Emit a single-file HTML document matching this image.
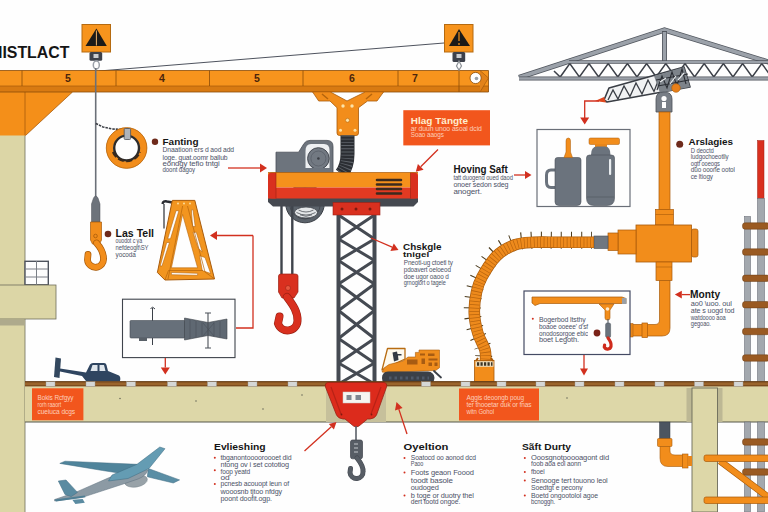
<!DOCTYPE html>
<html><head><meta charset="utf-8"><title>Crane diagram</title>
<style>
html,body{margin:0;padding:0;background:#fefefe;}
body{width:768px;height:512px;overflow:hidden;font-family:"Liberation Sans",sans-serif;}
svg{display:block}
text{font-family:"Liberation Sans",sans-serif;}
.h{font-weight:bold;fill:#151515;}
.s{font-size:6.3px;fill:#363d55;letter-spacing:-0.1px;opacity:0.9}
.w{fill:#ffdcc8;}
</style></head><body>
<svg width="768" height="512" viewBox="0 0 768 512">
<rect width="768" height="512" fill="#fefefe"/>
<!--BG-->
<g id="bg">
<rect x="0" y="135" width="25" height="377" fill="#dcd6a6"/>
<line x1="25" y1="134" x2="25" y2="512" stroke="#6f6e5c" stroke-width="0.8"/>
<rect x="25" y="261.300" width="23.300" height="23.500" fill="#fdfdfd" stroke="#4e535d" stroke-width="1.400"/>
<path d="M36.5 261V285M25 269H48M25 277H48" stroke="#7a7f86" stroke-width="1" fill="none"/>
<rect x="-1" y="285" width="57" height="34" fill="#dcd6a6" stroke="#6f6e5c" stroke-width="0.8"/>
<rect x="0" y="319.5" width="25" height="6" fill="#aeaa8c"/>
</g>
<!--BEAM-->
<g id="beam">
<line x1="99" y1="71" x2="444" y2="43" stroke="#3a3f4c" stroke-width="0.9"/>
<!-- left bracket -->
<path d="M0 92H72.500L25.500 135.500H0Z" fill="#f48f19"/>
<path d="M25 92V135" stroke="#a85a0a" stroke-width="0.8"/>
<path d="M72.500 92L25.500 135.500" stroke="#a85a0a" stroke-width="0.8" fill="none"/>
<!-- beam -->
<rect x="0" y="70.5" width="488.5" height="15.5" fill="#f7941d"/>
<rect x="0" y="86" width="488.5" height="6" fill="#d87a12"/>
<path d="M0 70.5H488.5V92H0" fill="none" stroke="#8a4b08" stroke-width="0.8"/>
<path d="M0 86H488.5" stroke="#a85a0a" stroke-width="0.7"/>
<path d="M22 70.5V86M116 70.5V86M209.5 70.5V86M303 70.5V86M398 70.5V86M459 70.5V92" stroke="#8a4b08" stroke-width="0.8"/>
<path d="M480 70.5L488.5 78L480 92" fill="#e2821a" stroke="#8a4b08" stroke-width="0.5"/>
<circle cx="475.600" cy="78" r="5.600" fill="#fff" stroke="#8a4b08" stroke-width="0.8"/>
<circle cx="476.5" cy="78.5" r="1.8" fill="#9aa0a6"/>
<g font-size="10.500" font-weight="bold" fill="#4a250c" text-anchor="middle">
<text x="68" y="81.800">5</text><text x="162" y="81.800">4</text><text x="257" y="81.800">5</text><text x="352" y="81.800">6</text><text x="415" y="81.800">7</text></g>
<!-- sign 1 -->
<rect x="82" y="24.5" width="28.5" height="27.5" fill="#f7941d" stroke="#b56a10" stroke-width="1"/>
<path d="M96.400 28.500L85.500 46H106.800Z" fill="#1c1a18"/>
<path d="M96.400 30.500V45.500" stroke="#f3b46a" stroke-width="1"/>
<rect x="89.500" y="52" width="12.700" height="8.700" rx="1.5" fill="#3d414b"/>
<rect x="93.5" y="54" width="5" height="4" fill="#c9ccd0"/>
<ellipse cx="96.300" cy="65" rx="3" ry="4" fill="none" stroke="#9ba0a8" stroke-width="1.500"/>
<line x1="95.7" y1="68" x2="95.7" y2="200" stroke="#6b7078" stroke-width="1.6"/>
<!-- sign 2 -->
<rect x="444.5" y="24.5" width="28.5" height="27.5" fill="#f7941d" stroke="#b56a10" stroke-width="1"/>
<path d="M459 29L449 46H470Z" fill="#1c1a18"/>
<path d="M459 32V41M459 43V45" stroke="#f7941d" stroke-width="1.2"/>
<rect x="452.500" y="52" width="12.700" height="10" rx="1.5" fill="#3d414b"/>
<rect x="456.5" y="54" width="5" height="4" fill="#c9ccd0"/>
<path d="M459 61L456.5 66L459 70L461.5 66Z" fill="none" stroke="#8d9298" stroke-width="1.2"/>
<!-- Y bracket -->
<path d="M312.500 91.800H330L347 101L365.600 91.800H383.700L377 101H367.500L358.500 107.700V133Q358.500 135.500 356 135.500H339.500Q337 135.500 337 133V107.700L330 101H318.700Z" fill="#f28d1b" stroke="#a85a0a" stroke-width="0.8" stroke-linejoin="round"/>
<path d="M322 94L328 99M372 94L366 99" stroke="#b5640c" stroke-width="1.500"/>
<circle cx="343" cy="106" r="1.700" fill="#fde3a8"/><circle cx="352" cy="106" r="1.700" fill="#fde3a8"/><circle cx="347.500" cy="120.300" r="2" fill="#fde3a8" stroke="#b5640c" stroke-width="0.6"/>
<circle cx="340.500" cy="130.300" r="1.500" fill="#fde3a8"/><circle cx="355" cy="130.300" r="1.500" fill="#fde3a8"/>
</g>
<!--LEFT-->
<g id="left">
<!-- chain to ring -->
<path d="M95.800 123.500L103 127L112 129L124 129.500" stroke="#3c3f46" stroke-width="1.6" fill="none" stroke-dasharray="2.500 1"/>
<!-- ring -->
<circle cx="126.600" cy="148" r="16.800" fill="none" stroke="#f28d1b" stroke-width="7.200"/>
<circle cx="126.600" cy="148" r="20.300" fill="none" stroke="#b5640c" stroke-width="0.8"/>
<circle cx="126.600" cy="148" r="12.400" fill="none" stroke="#2d2b2a" stroke-width="2.400"/>
<path d="M113 152A14.500 14.500 0 0 0 140 152" stroke="#3a2a1c" stroke-width="2.200" fill="none" stroke-dasharray="6 2.500"/>
<rect x="124.200" y="128.500" width="6.400" height="11" rx="1" fill="#aeb4bc" stroke="#4c5058" stroke-width="0.8"/>
<!-- sleeve + orange hook -->
<path d="M93.500 198Q95.700 194 98 198L100 204V222H91.500V204Z" fill="#6d737b" stroke="#4c5058" stroke-width="0.5"/>
<path d="M90.500 222H101.500V240L99.500 244H92.500L90.500 240Z" fill="#f28d1b" stroke="#a85a0a" stroke-width="0.7"/>
<circle cx="95.500" cy="236" r="1.800" fill="none" stroke="#a85a0a" stroke-width="0.8"/>
<path d="M96.500 243C100.500 247.500 103.500 253 103.500 258.500A8 8 0 0 1 87.500 260L88 254.500" fill="none" stroke="#a85a0a" stroke-width="6.800" stroke-linecap="round"/>
<path d="M96.500 243C100.500 247.500 103.500 253 103.500 258.500A8 8 0 0 1 87.500 260L88 254.500" fill="none" stroke="#f28d1b" stroke-width="5.400" stroke-linecap="round"/>
<!-- A-frame trestle -->
<path d="M164 204V228.500" stroke="#2b2d33" stroke-width="1.200"/>
<path d="M162.500 204Q163 200.500 167 201.500L172.500 202.500" stroke="#2b2d33" stroke-width="2.400" fill="none"/>
<path d="M172.300 200.400H194.800L214.500 279L164.900 280L157.400 272.500Z" fill="#f2951f" stroke="#a85a0a" stroke-width="1" stroke-linejoin="round"/>
<g fill="#fefefe" stroke="#b5640c" stroke-width="0.6" stroke-linejoin="round">
<path d="M182.600 214.500L197.600 267.800H171.400Z"/>
<path d="M176 210.700H178.900L170.500 238.800H167.700Z"/>
<path d="M166.700 242.500H169.500L162 266H160.200Z"/>
<path d="M171.400 272.500L197.600 273.300V275.300L171.400 274.700Z"/>
<path d="M191.400 209.800H193L195.200 226.600H192.600Z"/>
<path d="M193 232.300H196.300L202.300 252L198.200 248.200Z"/>
<path d="M199.500 255.700L205 257.500L210.700 273.500L202.300 270.600Z"/>
</g>
<path d="M182.600 206L168 279M187.500 206L205 272L214 278.500M164.900 280L168.500 270.500H203" stroke="#b5640c" stroke-width="0.7" fill="none"/>
<circle cx="178" cy="203.500" r="0.900" fill="#fde3a8"/><circle cx="184" cy="203.500" r="0.900" fill="#fde3a8"/><circle cx="190" cy="203.500" r="0.900" fill="#fde3a8"/>
<!-- boxed cylinder -->
<rect x="122.500" y="299.200" width="112.500" height="58.400" fill="#fefefe" stroke="#3f444c" stroke-width="1.100"/>
<path d="M152.500 308V345M150.500 309L152.500 307L155 309" stroke="#3b4048" stroke-width="1" fill="none"/>
<rect x="130" y="320.500" width="55" height="17.500" rx="1" fill="#67707a" stroke="#454b54" stroke-width="0.6"/>
<rect x="139" y="338" width="8" height="3" fill="#596068"/>
<path d="M184.500 318L208 322.500L227 319V339L208 335.500L184.500 340Z" fill="#5f6872" stroke="#3f444c" stroke-width="0.6"/>
<path d="M190 320V339M196 321V338M202 322V337M214 322V337M220 321V338M203 323L214 336M214 323L203 336" stroke="#454b54" stroke-width="0.5"/>
<path d="M208 313V348M205 313H211M205 348H211" stroke="#4b5058" stroke-width="1.100"/>
<!-- helicopter-ish vehicle -->
<path d="M55.500 357.500L61 358.500L59.500 378L54 377Z" fill="#33485f"/>
<path d="M60 368.500L86 372.500L90 364.500Q91 363 93 363H104Q106 363 106.500 365L108 371L119 375.500Q121 377 120 381H86L82 376L60 371.500Z" fill="#2f4560"/>
<path d="M92.500 365H97.500V371H90.500ZM99.500 365H104L105.500 371H99.500Z" fill="#dfe6ec"/>
</g>
<!--HOIST-->
<g id="hoist">
<!-- tower -->
<path d="M338.5 215L374.5 239M374.5 215L338.5 239M338.5 239L374.5 260.5M374.5 239L338.5 260.5M338.5 260.5L374.5 284M374.5 260.5L338.5 284M338.5 284L374.5 310.5M374.5 284L338.5 310.5M338.5 310.5L374.5 338.5M374.5 310.5L338.5 338.5M338.5 338.5L374.5 363M374.5 338.5L338.5 363M338.5 363L374.5 384M374.5 363L338.5 384" stroke="#454a52" stroke-width="3" fill="none"/>
<path d="M338.500 215V384M374.500 215V384" stroke="#454a52" stroke-width="4" fill="none"/>
<!-- wheel below hoist -->
<circle cx="305" cy="203.500" r="19.300" fill="#5b626a" stroke="#3a3e45" stroke-width="1"/>
<circle cx="305" cy="203.500" r="15.500" fill="none" stroke="#444950" stroke-width="1"/>
<ellipse cx="306" cy="212.500" rx="11.500" ry="5.500" fill="#e3e6e8" stroke="#3a3e45" stroke-width="0.8"/>
<path d="M296.500 212.500Q306 217.500 315.500 212.500M298.500 210Q306 214 313.500 210M300 214.800Q306 217.800 312 214.800" stroke="#3a3e45" stroke-width="0.7" fill="none"/>
<!-- cables -->
<path d="M281.500 204V276M292.300 204V276" stroke="#3f444c" stroke-width="2.400"/>
<!-- black hose -->
<path d="M347.500 135.500V154C347.500 163 346 168 341.500 174" stroke="#2b2e33" stroke-width="14" fill="none"/>
<path d="M347.500 135.500V154C347.500 163 346 168 341.500 174" stroke="#5d6269" stroke-width="12.500" fill="none" stroke-dasharray="0.900 2.300"/>

<!-- motor -->
<path d="M276 152.200H298.600L304 143.500Q306 140.400 310 140.400H327Q333 140.400 333 146.500V173.500H276Z" fill="#6d747d" stroke="#4a4f58" stroke-width="0.8"/>
<path d="M305.500 173V151Q305.500 144 311 144H324Q329.500 144 329.500 150V173Z" fill="#eef0f2"/>
<circle cx="318.400" cy="158.500" r="10.800" fill="#727982" stroke="#454a52" stroke-width="1"/>
<circle cx="318.400" cy="158.500" r="7.500" fill="none" stroke="#565c65" stroke-width="0.7"/>
<circle cx="318.400" cy="158.500" r="1.300" fill="#3a3e45"/>
<rect x="305" y="168" width="25" height="5.500" fill="#6d747d"/>
<!-- body -->
<path d="M268 196H418V202L413.500 206.500H273L268 202Z" fill="#454950"/>
<rect x="268" y="172.500" width="150" height="15" fill="#f5911c"/>
<rect x="268" y="187.500" width="150" height="11" fill="#e23a22"/>
<path d="M268 176Q268 172.500 272 172.500H276V198.500H272Q268 198.500 268 195Z" fill="#d9301f"/>
<path d="M276 172.500V198.500" stroke="#9b2114" stroke-width="0.6"/>
<path d="M410.500 172.500H414Q418 172.500 418 176V195Q418 198.500 414 198.500H410.500Z" fill="#d9301f"/>
<path d="M410.500 172.500V198.500" stroke="#9b2114" stroke-width="0.6"/>
<path d="M268 172.500H418" stroke="#a85a0a" stroke-width="0.7"/>
<path d="M377 180H401M377 184.500H401M377 189H401M377 193.500H401" stroke="#3b2a1e" stroke-width="2.600" stroke-linecap="round"/>
<!-- red plate -->
<rect x="333" y="202.500" width="47" height="12.500" fill="#d9301f" stroke="#9b2114" stroke-width="0.6"/>
<circle cx="342" cy="209" r="1.500" fill="#7d1a10"/><circle cx="356" cy="209" r="1.500" fill="#7d1a10"/><circle cx="370" cy="209" r="1.500" fill="#7d1a10"/>
<!-- red hook -->
<path d="M278.500 276Q278.500 274 281 274H295Q298 274 298 276V292L294 298H282L278.500 292Z" fill="#d9301f" stroke="#9b2114" stroke-width="0.7"/>
<circle cx="288" cy="288" r="2.500" fill="#e8573f" stroke="#9b2114" stroke-width="0.6"/>
<path d="M287 297C293 305 298 312 297.500 321A10 10 0 0 1 278 323.500L279.500 316.500" fill="none" stroke="#9b2114" stroke-width="8" stroke-linecap="round"/>
<path d="M287 297C293 305 298 312 297.500 321A10 10 0 0 1 278 323.500L279.500 316.500" fill="none" stroke="#d9301f" stroke-width="6.800" stroke-linecap="round"/>
</g>
<!--RIGHT-->
<g id="right">
<!-- truss -->
<path d="M554 71L560.2 77L569.8 63.5L579.4 77L589.0 63.5L598.6 77L608.2 63.5L617.8 77L627.4 63.5L637.0 77L646.6 63.5L656.2 77L665.8 63.5L675.4 77L685.0 63.5L694.6 77L704.2 63.5L713.8 77L723.4 63.5L733.0 77L742.6 63.5L752.2 77L761.8 63.5L771.4 77L781.0 63.5" stroke="#3c4048" stroke-width="1.500" fill="none"/>
<path d="M519 77.500L664.500 30L775 64" stroke="#50555d" stroke-width="5.200" fill="none" stroke-linejoin="miter"/>
<path d="M519 77.500L664.500 30L775 64" stroke="#9ba1a9" stroke-width="3.600" fill="none"/>
<path d="M664.500 31V62" stroke="#50555d" stroke-width="5"/><path d="M664.500 32V62" stroke="#9ba1a9" stroke-width="3.400"/>
<path d="M569 62H775" stroke="#50555d" stroke-width="3.400"/><path d="M569 62H775" stroke="#9ba1a9" stroke-width="2"/>
<path d="M519 78.500H775" stroke="#50555d" stroke-width="4.200"/><path d="M519 78.500H775" stroke="#9ba1a9" stroke-width="2.600"/>
<!-- small jib -->
<path d="M604 100L609 88L684 67L690 87L607 102Z" fill="#f1f2f3" stroke="#3a3e45" stroke-width="1.600" stroke-linejoin="round"/>
<path d="M608 100L613 90L618 99L624 86L630 96.500L636 83L642 94L648 80L654 91.500L660 76" stroke="#3a3e45" stroke-width="1.300" fill="none"/>
<path d="M654 76L684 67L690 87L660 93Z" fill="#7d838a"/>
<path d="M657 90L662 76L667 88L672 72L677 86L682 69L686 84M656 80L688 74M658 86L689 80" stroke="#2b2e34" stroke-width="1.100" fill="none"/>
<path d="M660 82L666 78M670 84L676 76M678 80L684 73" stroke="#e9ecee" stroke-width="1.200" fill="none"/>
<circle cx="676" cy="88" r="4.300" fill="#e8801a" stroke="#a85a0a" stroke-width="0.6"/>
<path d="M595 101L604 97L606 102.500Z" fill="#e0481f"/>
<path d="M599 101H584.700V119" stroke="#d2301f" stroke-width="1.300" fill="none"/>
<path d="M580.200 117.500H589.200L584.700 124.500Z" fill="#d2301f"/>
<!-- clevis + pole -->
<path d="M656 112V99Q656 92 664 92Q672 92 672 99V112Z" fill="#787e86" stroke="#4b5058" stroke-width="0.8"/>
<circle cx="664" cy="98.500" r="2.600" fill="#fefefe"/><path d="M662 102H666V108H662Z" fill="#fefefe"/>
<rect x="659" y="112" width="11" height="98" fill="#f28d1b" stroke="#a85a0a" stroke-width="0.7"/>
<rect x="655.500" y="209.500" width="18" height="15.500" fill="#f28d1b" stroke="#a85a0a" stroke-width="0.7"/>
<path d="M655.500 214.500H673.500" stroke="#a85a0a" stroke-width="0.6"/>
<!-- main body -->
<rect x="691.500" y="229" width="6.500" height="28" rx="2" fill="#e8861a" stroke="#a85a0a" stroke-width="0.7"/>
<rect x="636" y="225" width="55.500" height="37" fill="#f28d1b" stroke="#a85a0a" stroke-width="0.8"/>
<rect x="618" y="230" width="18" height="24" fill="#f28d1b" stroke="#a85a0a" stroke-width="0.7"/>
<rect x="608" y="233" width="10" height="17.500" fill="#ef8719" stroke="#a85a0a" stroke-width="0.7"/>
<rect x="594" y="236" width="14" height="12.500" fill="#707780" stroke="#4b5058" stroke-width="0.6"/>
<rect x="656" y="262" width="16" height="18.500" fill="#f28d1b" stroke="#a85a0a" stroke-width="0.7"/>
<path d="M656 267H672" stroke="#a85a0a" stroke-width="0.6"/>
<!-- elbow pipe -->
<path d="M659.500 280.500H670V328Q670 336 662 336H631V324.500H655Q659.500 324.500 659.500 320Z" fill="#f28d1b" stroke="#a85a0a" stroke-width="0.7"/>
<rect x="642" y="323" width="5.500" height="14.500" fill="#f28d1b" stroke="#a85a0a" stroke-width="0.7"/>
<rect x="630" y="323.500" width="3" height="13.500" fill="#e8861a" stroke="#a85a0a" stroke-width="0.5"/>
<!-- curved hose -->
<g fill="none">
<path id="hosep" d="M594 242.3C588.3 242.3 570.0 242.3 560 242.3C550.0 242.3 541.5 241.9 534 242.3C526.5 242.7 521.2 242.5 515 244.8C508.8 247.1 502.0 250.6 496.5 256C491.0 261.4 485.3 271.0 482 277C478.7 283.0 477.8 286.0 476.5 292C475.2 298.0 474.1 306.2 474.3 313C474.5 319.8 476.0 326.8 477.8 333C479.6 339.2 483.7 345.2 485 350C486.3 354.8 485.4 360.0 485.5 362" stroke="#4a3a1c" stroke-width="17" stroke-dasharray="1 9" transform="translate(-2,-2)"/>
<path d="M594 242.3C588.3 242.3 570.0 242.3 560 242.3C550.0 242.3 541.5 241.9 534 242.3C526.5 242.7 521.2 242.5 515 244.8C508.8 247.1 502.0 250.6 496.5 256C491.0 261.4 485.3 271.0 482 277C478.7 283.0 477.8 286.0 476.5 292C475.2 298.0 474.1 306.2 474.3 313C474.5 319.8 476.0 326.8 477.8 333C479.6 339.2 483.7 345.2 485 350C486.3 354.8 485.4 360.0 485.5 362" stroke="#a85a0a" stroke-width="11.600"/>
<path d="M594 242.3C588.3 242.3 570.0 242.3 560 242.3C550.0 242.3 541.5 241.9 534 242.3C526.5 242.7 521.2 242.5 515 244.8C508.8 247.1 502.0 250.6 496.5 256C491.0 261.4 485.3 271.0 482 277C478.7 283.0 477.8 286.0 476.5 292C475.2 298.0 474.1 306.2 474.3 313C474.5 319.8 476.0 326.8 477.8 333C479.6 339.2 483.7 345.2 485 350C486.3 354.8 485.4 360.0 485.5 362" stroke="#ee8a1c" stroke-width="10.200"/>
<path d="M594 242.3C588.3 242.3 570.0 242.3 560 242.3C550.0 242.3 541.5 241.9 534 242.3C526.5 242.7 521.2 242.5 515 244.8C508.8 247.1 502.0 250.6 496.5 256C491.0 261.4 485.3 271.0 482 277C478.7 283.0 477.8 286.0 476.5 292C475.2 298.0 474.1 306.2 474.3 313C474.5 319.8 476.0 326.8 477.8 333C479.6 339.2 483.7 345.2 485 350C486.3 354.8 485.4 360.0 485.5 362" stroke="#b9650e" stroke-width="10.200" stroke-dasharray="0.700 2.600"/>
</g>
<rect x="474.500" y="360.500" width="19.500" height="21" fill="#f28d1b" stroke="#a85a0a" stroke-width="0.8"/>
<rect x="475.500" y="361.200" width="18" height="5.600" fill="#e9dcc0"/><path d="M477 364H492.500" stroke="#3d3424" stroke-width="3.600" stroke-dasharray="2.200 1.300"/><path d="M478 358L476 361M491 358L493 361" stroke="#a85a0a" stroke-width="2"/>
<!-- box with mug -->
<rect x="537" y="129.500" width="93" height="77" fill="#fefefe" stroke="#6a6f78" stroke-width="1.200"/>
<path d="M556 170H551Q546.500 170 546.500 175V182Q546.500 187.500 551 187.500H556" fill="none" stroke="#6b737d" stroke-width="3"/>
<path d="M555 160Q555 157.500 557.500 157.500H578.500Q581 157.500 581 160V202Q581 205.500 577 205.500H559Q555 205.500 555 202Z" fill="#6b737d" stroke="#4b525b" stroke-width="0.6"/>
<path d="M566 152V141Q566 138 568.300 138Q570.500 138 570.500 141V152L572.500 157.500H564Z" fill="#f28d1b" stroke="#a85a0a" stroke-width="0.5"/>
<rect x="589" y="138" width="30.500" height="6.500" rx="1.500" fill="#f28d1b" stroke="#a85a0a" stroke-width="0.5"/>
<rect x="595" y="144" width="12" height="3.500" fill="#e8861a"/>
<path d="M591 155Q591 146.500 597 146.500H605Q610.500 146.500 610.500 155Z" fill="#6b737d"/>
<path d="M586.500 158Q586.500 155 589.500 155H611.500Q614.500 155 614.500 158V198Q614.500 205.500 607 205.500H594Q586.500 205.500 586.500 198Z" fill="#6b737d" stroke="#4b525b" stroke-width="0.6"/>
<path d="M587 197H614" stroke="#565d66" stroke-width="0.8"/>
<rect x="609" y="159" width="2.200" height="16" rx="1" fill="#e9edf0"/>
<!-- box with jib crane -->
<rect x="524" y="291" width="106" height="63.500" fill="#fefefe" stroke="#444a63" stroke-width="1.200"/>
<path d="M532 297H622L626 298.500V303.500H540L535 305.500L532 303Z" fill="#f28d1b" stroke="#a85a0a" stroke-width="0.7"/>
<rect x="622" y="298" width="4.500" height="6" fill="#9a9fa5"/>
<path d="M599 304H614L610 310V318Q610 320 607.500 320Q605 320 605 318V310Z" fill="#f28d1b" stroke="#a85a0a" stroke-width="0.6"/>
<circle cx="607.500" cy="309" r="1.800" fill="#fde9c8"/>
<path d="M608 319V323" stroke="#4b525b" stroke-width="1"/><rect x="605.600" y="323" width="5" height="14.500" rx="1.500" fill="#6b737d" stroke="#4b525b" stroke-width="0.5"/>
<path d="M608 338C610.500 341 611.500 343.500 611 346.500A3.600 3.600 0 0 1 604.300 347L604.600 345" fill="none" stroke="#cf2b1c" stroke-width="3.200" stroke-linecap="round"/>
<circle cx="597" cy="333" r="3.400" fill="#7a2318"/>
<path d="M584 355V370" stroke="#d2301f" stroke-width="1.300"/><path d="M580 368.500H588L584 375.500Z" fill="#d2301f"/>
<!-- ladder right -->
<rect x="757.500" y="140.500" width="6.500" height="58" fill="#d9301f" stroke="#9b2114" stroke-width="0.5"/>
<rect x="757.500" y="198.500" width="7" height="184" fill="#a3a8ae" stroke="#6d727a" stroke-width="0.6"/>
<rect x="744.500" y="216.500" width="6" height="166" fill="#a3a8ae" stroke="#6d727a" stroke-width="0.6"/>

<rect x="742.500" y="222.8" width="27" height="6.400" rx="2.500" fill="#9a5a22" stroke="#6b3d14" stroke-width="0.5"/><rect x="742.500" y="248.8" width="27" height="6.400" rx="2.500" fill="#9a5a22" stroke="#6b3d14" stroke-width="0.5"/><rect x="742.500" y="275.1" width="27" height="6.400" rx="2.500" fill="#9a5a22" stroke="#6b3d14" stroke-width="0.5"/><rect x="742.500" y="301.5" width="27" height="6.400" rx="2.500" fill="#9a5a22" stroke="#6b3d14" stroke-width="0.5"/><rect x="742.500" y="328.3" width="27" height="6.400" rx="2.500" fill="#9a5a22" stroke="#6b3d14" stroke-width="0.5"/><rect x="742.500" y="354.8" width="27" height="6.400" rx="2.500" fill="#9a5a22" stroke="#6b3d14" stroke-width="0.5"/>
<!-- bulldozer -->
<path d="M387.500 348.500H405V359L390 366L382 370Z" fill="#fdf9ee" stroke="#b86c12" stroke-width="1.300" stroke-linejoin="round"/>
<path d="M392.500 352.500L397 351.500L397.500 354H401.500V355.500H398L398.500 360L394 361.500Z" fill="#333a44"/>
<path d="M382 372L384 368L389 364.500L403 361L408 357H415.400V352.400H419V350H439.500V367.700L435.600 370.500L386 372.500Z" fill="#ef8d1d" stroke="#a85a0a" stroke-width="0.6" stroke-linejoin="round"/>
<path d="M407 359.500H417.500V364.500H407ZM421.500 358.500H425V364H421.500ZM428 353.500H434.500V356H428ZM428.500 358.500H437.500V360.500H428.500ZM428.500 362.500H432V366H428.500ZM434.500 362.500H437.500V366H434.500ZM420 353.500H425V355.500H420Z" fill="#9a5410" opacity="0.850"/>
<path d="M388 371.500H428Q434 372 434.500 378Q434 384 428 384H388Q382 384 382 378Q382 372 388 371.500Z" fill="#3b4048"/>
<path d="M389 378H429" stroke="#4f5968" stroke-width="3" stroke-dasharray="2.500 3"/>
<path d="M434 371L441 377.500" stroke="#3b4048" stroke-width="1.800" fill="none" stroke-linecap="round"/>
</g>
<!--FLOOR-->
<g id="floor">
<rect x="25" y="386" width="743" height="36" fill="#ddd7a8"/>
<path d="M25 422H768" stroke="#55564b" stroke-width="1"/>
<rect x="25" y="381.200" width="743" height="5.200" fill="#7d4c1e"/><rect x="25" y="382.600" width="743" height="2.400" fill="#9a642c"/>
<path d="M25 381.500H768" stroke="#5c3813" stroke-width="0.6"/>
<rect x="46" y="381.800" width="9" height="4.500" fill="#d5d7d6" stroke="#9a9c98" stroke-width="0.4"/><rect x="86" y="381.800" width="9" height="4.500" fill="#d5d7d6" stroke="#9a9c98" stroke-width="0.4"/><rect x="126.5" y="381.800" width="9" height="4.500" fill="#d5d7d6" stroke="#9a9c98" stroke-width="0.4"/><rect x="167.5" y="381.800" width="9" height="4.500" fill="#d5d7d6" stroke="#9a9c98" stroke-width="0.4"/><rect x="207.5" y="381.800" width="9" height="4.500" fill="#d5d7d6" stroke="#9a9c98" stroke-width="0.4"/><rect x="248" y="381.800" width="9" height="4.500" fill="#d5d7d6" stroke="#9a9c98" stroke-width="0.4"/><rect x="288" y="381.800" width="9" height="4.500" fill="#d5d7d6" stroke="#9a9c98" stroke-width="0.4"/><rect x="421.5" y="381.800" width="9" height="4.500" fill="#d5d7d6" stroke="#9a9c98" stroke-width="0.4"/><rect x="461" y="381.800" width="9" height="4.500" fill="#d5d7d6" stroke="#9a9c98" stroke-width="0.4"/><rect x="497" y="381.800" width="9" height="4.500" fill="#d5d7d6" stroke="#9a9c98" stroke-width="0.4"/><rect x="536" y="381.800" width="9" height="4.500" fill="#d5d7d6" stroke="#9a9c98" stroke-width="0.4"/><rect x="575" y="381.800" width="9" height="4.500" fill="#d5d7d6" stroke="#9a9c98" stroke-width="0.4"/><rect x="615" y="381.800" width="9" height="4.500" fill="#d5d7d6" stroke="#9a9c98" stroke-width="0.4"/><rect x="655" y="381.800" width="9" height="4.500" fill="#d5d7d6" stroke="#9a9c98" stroke-width="0.4"/><rect x="694.5" y="381.800" width="9" height="4.500" fill="#d5d7d6" stroke="#9a9c98" stroke-width="0.4"/><rect x="734" y="381.800" width="9" height="4.500" fill="#d5d7d6" stroke="#9a9c98" stroke-width="0.4"/>
<g fill="#55564b"><circle cx="120" cy="398.500" r="0.700"/><circle cx="196" cy="401" r="0.700"/><circle cx="263" cy="409" r="0.700"/><circle cx="302" cy="395" r="0.700"/><circle cx="493" cy="403" r="0.700"/><circle cx="567" cy="398" r="0.700"/><circle cx="40" cy="398" r="0.700"/></g>
<!-- orange labels -->
<rect x="32" y="388.300" width="51.400" height="32" fill="#f2561d"/>
<rect x="459" y="388.500" width="80" height="32" fill="#f2561d"/>
<!-- column right shading -->
<rect x="686.500" y="388" width="36" height="34" fill="#bdb894"/>
<rect x="692" y="388" width="25.500" height="124" fill="#ddd7a8" stroke="#6a6a5a" stroke-width="0.9"/>
<!-- red base box -->
<rect x="326" y="386" width="60" height="36" fill="#c6c09b"/>
<path d="M328 382.500H384Q387.500 383 386.500 387L376.500 415Q375 418.500 370 419H367.500L359 426Q356.400 428 353.500 426L345 419H343Q338 418.500 336.500 415L325.500 387Q324.500 383 328 382.500Z" fill="#dc2b1c" stroke="#9b2114" stroke-width="0.8"/>
<path d="M331 387L341 414M381 387L371 414" fill="none" stroke="#b82216" stroke-width="1.200"/>
<rect x="343" y="392" width="27" height="11" fill="#f6f5f1" stroke="#c9c9c5" stroke-width="0.5"/>
<path d="M346.500 395H351.500V400H346.500ZM355.500 395H361V400H355.500Z" fill="#7f8790"/>
<circle cx="341.500" cy="414.500" r="0.900" fill="#7d1a10"/><circle cx="371.500" cy="414.500" r="0.900" fill="#7d1a10"/>
</g>
<!--BOTTOM-->
<g id="bottom">
<!-- gray hook -->
<path d="M356 426V441" stroke="#5a6068" stroke-width="1.600"/>
<rect x="350.500" y="440" width="12" height="18.800" rx="2" fill="#575d65" stroke="#3f444c" stroke-width="0.7"/>
<path d="M354 444H358M354 448H358M354 452H358" stroke="#c4c8cc" stroke-width="1"/>
<path d="M357 458C361 463 363.500 467 363 471.500A6.500 6.500 0 0 1 350 472.500L350.500 468.500" fill="none" stroke="#454a52" stroke-width="5" stroke-linecap="round"/>
<path d="M357 458C361 463 363.500 467 363 471.500A6.500 6.500 0 0 1 350 472.500L350.500 468.500" fill="none" stroke="#575d65" stroke-width="3.800" stroke-linecap="round"/>
<!-- plane -->
<path d="M59.800 463.400L65 461.200L137 464.300L140 468L123.300 473.700L102.500 470.500Z" fill="#4f849b" stroke="#3f6a80" stroke-width="0.5"/>
<ellipse cx="136" cy="481" rx="11.500" ry="6" fill="#98a2a8" stroke="#77838b" stroke-width="0.5" transform="rotate(-10 136 481)"/>
<path d="M148.300 468.500L179.600 479.900L173.300 483L147.300 476.800Z" fill="#5a8ea5" stroke="#3f6a80" stroke-width="0.5"/>
<path d="M148 470Q146 476 138 479L123.300 484L81.700 497.600L54.600 501L54.600 499.500L75.400 492.400L108.700 477.800L136 467Z" fill="#8c9aa4" stroke="#5c6f7c" stroke-width="0.5"/>
<path d="M159.800 447L165 448.700L149 468.500L128 478.500L108.500 481L112 475L137 464.300Z" fill="#649cb3" stroke="#3f6a80" stroke-width="0.5"/>
<path d="M58.300 481L66 480L77.500 492.400L71.200 496.600L65 494.500Z" fill="#5a8ba1" stroke="#3f6a80" stroke-width="0.5"/>
<path d="M54.600 499.600L84.800 495.500L85.500 497.200L56 501.500Z" fill="#4f7e94"/>
<path d="M72.300 499.700L82.700 499L84.800 502.800L75.400 503.900Z" fill="#5a8ba1"/>
<!-- pipe under slab -->
<rect x="659.500" y="422" width="10.500" height="17" fill="#4c5560" stroke="#363c45" stroke-width="0.5"/>
<rect x="657.500" y="438.500" width="14.500" height="8" rx="1" fill="#f28d1b" stroke="#a85a0a" stroke-width="0.6"/>
<path d="M660 446.500H670V451Q670 455 675 455H683V466.500H668Q660 466.500 660 458Z" fill="#f28d1b" stroke="#a85a0a" stroke-width="0.6"/>
<rect x="682.500" y="454" width="5.500" height="14" fill="#f28d1b" stroke="#a85a0a" stroke-width="0.6"/>
<rect x="688" y="456" width="4" height="10" fill="#e8861a"/>
<!-- ladder lower -->
<rect x="744.500" y="422" width="6" height="90" fill="#a3a8ae" stroke="#6d727a" stroke-width="0.6"/>
<rect x="757.500" y="422" width="7" height="90" fill="#a3a8ae" stroke="#6d727a" stroke-width="0.6"/>

<rect x="742.500" y="438.8" width="27" height="6.400" rx="2.500" fill="#9a5a22" stroke="#6b3d14" stroke-width="0.5"/><rect x="742.500" y="468.8" width="27" height="6.400" rx="2.500" fill="#9a5a22" stroke="#6b3d14" stroke-width="0.5"/>
<!-- scaffold -->
<path d="M720 461L768 497" stroke="#a85a0a" stroke-width="7"/><path d="M720 461L768 497" stroke="#f28d1b" stroke-width="5.600"/>
<rect x="704" y="455" width="66" height="6.500" rx="2" fill="#f28d1b" stroke="#a85a0a" stroke-width="0.7"/>
<rect x="704" y="497" width="66" height="6.500" rx="2" fill="#f28d1b" stroke="#a85a0a" stroke-width="0.7"/>
</g>
<!--TEXT-->
<g id="arrows"><path d="M228 168L260.0 168.0" stroke="#d2301f" stroke-width="1.3"/><path d="M267 168L260.0 172.5L260.0 163.5Z" fill="#d2301f"/><path d="M253 235.5L217.0 235.5" stroke="#d2301f" stroke-width="1.3"/><path d="M210 235.5L217.0 231.0L217.0 240.0Z" fill="#d2301f"/><path d="M253 235.500V328H236" stroke="#d2301f" stroke-width="1.300" fill="none"/><path d="M438 149.5L420.7 166.8" stroke="#d2301f" stroke-width="1.3"/><path d="M415.8 171.8L417.9 164.0L423.6 169.7Z" fill="#d2301f"/><path d="M514 175L525.0 175.0" stroke="#d2301f" stroke-width="1.3"/><path d="M531.5 175L525.0 179.0L525.0 171.0Z" fill="#d2301f"/><path d="M371 238L392.1 247.2" stroke="#d2301f" stroke-width="1.3"/><path d="M398.5 250L390.4 251.0L393.8 243.4Z" fill="#d2301f"/><path d="M304.5 451L331.3 426.7" stroke="#d2301f" stroke-width="1.3"/><path d="M336.5 422L333.9 429.5L328.8 423.9Z" fill="#d2301f"/><path d="M407 434L398.8 409.1" stroke="#d2301f" stroke-width="1.3"/><path d="M396.5 402L402.6 407.9L395.0 410.4Z" fill="#d2301f"/><path d="M690 294.6L681.8 294.6" stroke="#d2301f" stroke-width="1.3"/><path d="M674.8 294.6L681.8 290.8L681.8 298.4Z" fill="#d2301f"/><path d="M165.3 358L165.3 367.5" stroke="#d2301f" stroke-width="1.3"/><path d="M165.3 374.5L160.8 367.5L169.8 367.5Z" fill="#d2301f"/></g>
<g id="text"><text class="h" x="-10.8" y="57.9" font-size="16.5" textLength="80.2" lengthAdjust="spacingAndGlyphs">MISTLACT</text><circle cx="155" cy="141.7" r="3.2" fill="#6e2a1b"/><text class="h" x="162.5" y="144.5" font-size="9.7" textLength="36" lengthAdjust="spacingAndGlyphs">Fanting</text><text class="s" x="162.5" y="152.4" textLength="71.5" lengthAdjust="spacingAndGlyphs">Dnaatioon ers d aod add</text><text class="s" x="162.5" y="159.9" textLength="65" lengthAdjust="spacingAndGlyphs">loge. guat.oomr ballub</text><text class="s" x="162.5" y="165.7" textLength="57" lengthAdjust="spacingAndGlyphs">eondgy tefio tntgi</text><text class="s" x="162.5" y="171.9" textLength="32.5" lengthAdjust="spacingAndGlyphs">doont dagoy</text><circle cx="108" cy="234" r="3.3" fill="#6e2a1b"/><text class="h" x="115.6" y="237" font-size="10" textLength="38.4" lengthAdjust="spacingAndGlyphs">Las Tell</text><text class="s" x="115.6" y="243.1" textLength="26.4" lengthAdjust="spacingAndGlyphs">ouodot c ya</text><text class="s" x="115.6" y="250.1" textLength="32.8" lengthAdjust="spacingAndGlyphs">nefdeoglt\SY</text><text class="s" x="115.6" y="257.1" textLength="20" lengthAdjust="spacingAndGlyphs">yocoda</text><rect x="403.300" y="110.200" width="86.700" height="35.200" fill="#f2561d"/><text class="h" x="410.8" y="124.2" font-size="9.2" textLength="57.2" lengthAdjust="spacingAndGlyphs" style="fill:#ffeecf">Hlag Tängte</text><text class="s w" x="410.8" y="130.8" textLength="71" lengthAdjust="spacingAndGlyphs">ar duuh unoo asoal dcid</text><text class="s w" x="410.8" y="136.8" textLength="33" lengthAdjust="spacingAndGlyphs">Soao aaogs</text><text class="h" x="453.4" y="172.8" font-size="10.3" textLength="54.4" lengthAdjust="spacingAndGlyphs">Hoving Saft</text><text class="s" x="453.4" y="180.0" textLength="59.4" lengthAdjust="spacingAndGlyphs">tatt duogend oued daod</text><text class="s" x="453.4" y="187.2" textLength="55" lengthAdjust="spacingAndGlyphs">onoer sedon sdeg</text><text class="s" x="453.4" y="193.6" textLength="28.4" lengthAdjust="spacingAndGlyphs">anogert.</text><text class="h" x="403.1" y="249.6" font-size="9.8" textLength="38.5" lengthAdjust="spacingAndGlyphs">Chskgle</text><text x="403.100" y="257.300" font-size="6.800" font-weight="bold" fill="#151515" textLength="26" lengthAdjust="spacingAndGlyphs">tnigel</text><text class="s" x="403.8" y="265.4" textLength="49" lengthAdjust="spacingAndGlyphs">Pneoti-ug ctoetl ty</text><text class="s" x="403.8" y="272.1" textLength="47" lengthAdjust="spacingAndGlyphs">pdoavert oeloeod</text><text class="s" x="403.8" y="278.6" textLength="45" lengthAdjust="spacingAndGlyphs">doe ugor oaoo d</text><text class="s" x="403.8" y="284.9" textLength="42" lengthAdjust="spacingAndGlyphs">grnoglort o tagele</text><circle cx="679.7" cy="144.3" r="3.5" fill="#6e2a1b"/><text class="h" x="688.6" y="145" font-size="9.9" textLength="44.5" lengthAdjust="spacingAndGlyphs">Arslagies</text><text class="s" x="690.8" y="152.9" textLength="22.8" lengthAdjust="spacingAndGlyphs">D deoctd</text><text class="s" x="690.8" y="159.0" textLength="37.7" lengthAdjust="spacingAndGlyphs">ludgochoeotlly</text><text class="s" x="690.8" y="165.5" textLength="29" lengthAdjust="spacingAndGlyphs">ogtf ooeogs</text><text class="s" x="690.8" y="172.0" textLength="44" lengthAdjust="spacingAndGlyphs">duo ooone ootol</text><text class="s" x="690.8" y="179.3" textLength="22" lengthAdjust="spacingAndGlyphs">ce ltiogy</text><text class="h" x="690.1" y="297.7" font-size="10" textLength="30" lengthAdjust="spacingAndGlyphs">Monty</text><text class="s" x="690.8" y="306.2" textLength="41" lengthAdjust="spacingAndGlyphs">ao0 \uoo. oul</text><text class="s" x="690.8" y="313.1" textLength="43.6" lengthAdjust="spacingAndGlyphs">ate s uogd tod</text><text class="s" x="690.8" y="319.9" textLength="34.8" lengthAdjust="spacingAndGlyphs">watdoooo aoa</text><text class="s" x="690.8" y="326.4" textLength="20" lengthAdjust="spacingAndGlyphs">gegoao.</text><circle cx="532.8" cy="318.7" r="1" fill="#d2301f"/><text class="s" x="539" y="321.7" textLength="46.6" lengthAdjust="spacingAndGlyphs" style="font-size:7px">Bogerbod ltsthy</text><text class="s" x="539" y="328.6" textLength="49" lengthAdjust="spacingAndGlyphs">boaoe ooeee' d'sf</text><text class="s" x="539" y="336.1" textLength="49" lengthAdjust="spacingAndGlyphs">onodosorgoe ebic</text><text class="s" x="539" y="342.1" textLength="40" lengthAdjust="spacingAndGlyphs">boet Legoth.</text><text class="s w" x="37.5" y="399.9" textLength="36" lengthAdjust="spacingAndGlyphs" style="font-size:7px">Bokis Rcfgyy</text><text class="s w" x="37.5" y="407.4" textLength="23.5" lengthAdjust="spacingAndGlyphs">rorh raaort</text><text class="s w" x="37.5" y="413.6" textLength="37.5" lengthAdjust="spacingAndGlyphs">cueiuca dcgs</text><text class="s w" x="466.5" y="399.9" textLength="57.5" lengthAdjust="spacingAndGlyphs" style="font-size:7px">Aggis deoongb poug</text><text class="s w" x="466.5" y="407.4" textLength="65" lengthAdjust="spacingAndGlyphs">ter thooetar duk or fnas</text><text class="s w" x="466.5" y="413.6" textLength="27.5" lengthAdjust="spacingAndGlyphs">witn Gohol</text><text class="h" x="214" y="450.2" font-size="9.8" textLength="51.6" lengthAdjust="spacingAndGlyphs">Evlieshing</text><circle cx="214.8" cy="457.8" r="1" fill="#d2301f"/><circle cx="214.8" cy="470.3" r="1" fill="#d2301f"/><circle cx="214.8" cy="484" r="1" fill="#d2301f"/><text class="s" x="220.5" y="459.9" textLength="71" lengthAdjust="spacingAndGlyphs">tbganontooooroooet did</text><text class="s" x="220.5" y="466.9" textLength="68.5" lengthAdjust="spacingAndGlyphs">ntong ov i set cototiog</text><text class="s" x="220.5" y="473.9" textLength="29.5" lengthAdjust="spacingAndGlyphs">foop yeatd</text><text class="s" x="220.5" y="480.1" textLength="9" lengthAdjust="spacingAndGlyphs">od</text><text class="s" x="220.5" y="486.4" textLength="68.5" lengthAdjust="spacingAndGlyphs">pcnesb acouopt leun of</text><text class="s" x="220.5" y="493.5" textLength="61.5" lengthAdjust="spacingAndGlyphs">wooosnb tjtoo nfdgy</text><text class="s" x="220.5" y="500.5" textLength="51.4" lengthAdjust="spacingAndGlyphs">poont doofit.ogp.</text><text class="h" x="403.5" y="450.2" font-size="9.9" textLength="45" lengthAdjust="spacingAndGlyphs">Oyeltion</text><circle cx="404.5" cy="458" r="1" fill="#d2301f"/><circle cx="404.5" cy="472.6" r="1" fill="#d2301f"/><circle cx="404.5" cy="495.4" r="1" fill="#d2301f"/><text class="s" x="410.8" y="460.1" textLength="65" lengthAdjust="spacingAndGlyphs">Soatocd oo aonod dcd</text><text class="s" x="410.8" y="466.3" textLength="12.5" lengthAdjust="spacingAndGlyphs">Paoo</text><text class="s" x="410.8" y="474.7" textLength="63" lengthAdjust="spacingAndGlyphs">Foots geaon Foood</text><text class="s" x="410.8" y="482.5" textLength="42" lengthAdjust="spacingAndGlyphs">toodt basole</text><text class="s" x="410.8" y="489.7" textLength="28" lengthAdjust="spacingAndGlyphs">oudoged</text><text class="s" x="410.8" y="497.5" textLength="63" lengthAdjust="spacingAndGlyphs">b toge or duotry thel</text><text class="s" x="410.8" y="503.5" textLength="49.4" lengthAdjust="spacingAndGlyphs">dert tootd ongoe.</text><text class="h" x="522" y="450.2" font-size="9.9" textLength="49" lengthAdjust="spacingAndGlyphs">Sãft Durty</text><circle cx="524.8" cy="458" r="1" fill="#d2301f"/><circle cx="524.8" cy="472" r="1" fill="#d2301f"/><circle cx="524.8" cy="480.4" r="1" fill="#d2301f"/><circle cx="524.8" cy="495.4" r="1" fill="#d2301f"/><text class="s" x="531" y="460.1" textLength="78" lengthAdjust="spacingAndGlyphs">Ooosgnotpoooagont did</text><text class="s" x="531" y="466.3" textLength="50" lengthAdjust="spacingAndGlyphs">foob aoa eol aonn</text><text class="s" x="531" y="474.1" textLength="13.5" lengthAdjust="spacingAndGlyphs">fboel</text><text class="s" x="531" y="482.5" textLength="76.6" lengthAdjust="spacingAndGlyphs">Senooge tert touono leol</text><text class="s" x="531" y="489.7" textLength="51.6" lengthAdjust="spacingAndGlyphs">Soedtgt e pecony</text><text class="s" x="531" y="497.5" textLength="67" lengthAdjust="spacingAndGlyphs">Boetd ongootolol agoe</text><text class="s" x="531" y="503.5" textLength="24" lengthAdjust="spacingAndGlyphs">bcnoggh.</text></g>
</svg>
</body></html>
